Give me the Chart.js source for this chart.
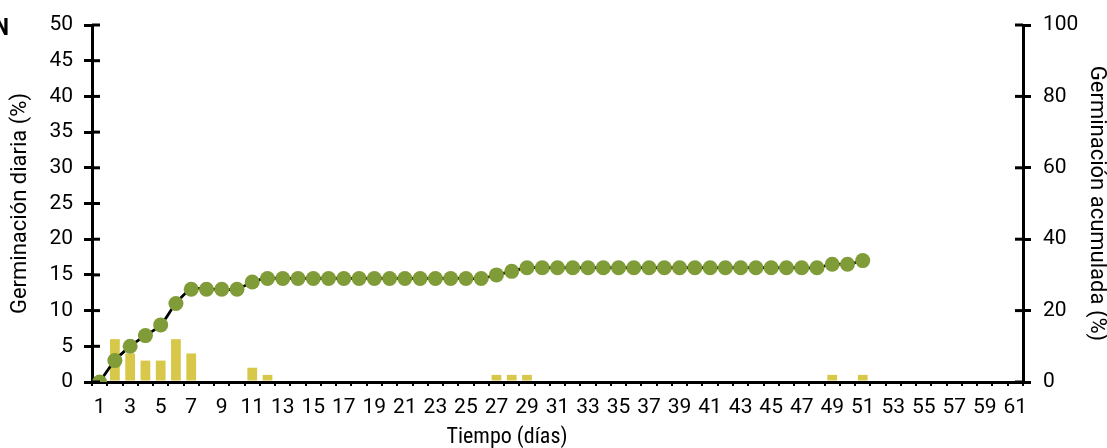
<!DOCTYPE html>
<html>
<head>
<meta charset="utf-8">
<script src="https://cdn.jsdelivr.net/npm/chart.js@4"></script>
<style>
  html, body { margin: 0; padding: 0; background: #fff; }
  #wrap { width: 1107px; height: 448px; }
</style>
</head>
<body>
<div id="wrap"><canvas id="grafico"></canvas></div>
<script>
// ======== Datos ========
// Días (categorías del eje X)
const dias = [];
for (let d = 1; d <= 61; d++) dias.push(String(d));

// Germinación diaria (%) - barras, eje izquierdo
const germinacionDiaria = [
  0, 6, 4, 3, 3, 6, 4, 0, 0, 0,
  2, 1, 0, 0, 0, 0, 0, 0, 0, 0,
  0, 0, 0, 0, 0, 0, 1, 1, 1, 0,
  0, 0, 0, 0, 0, 0, 0, 0, 0, 0,
  0, 0, 0, 0, 0, 0, 0, 0, 1, 0,
  1
];

// Germinación acumulada (%) - línea con puntos, eje derecho
const germinacionAcumulada = [
  0, 6, 10, 13, 16, 22, 26, 26, 26, 26,
  28, 29, 29, 29, 29, 29, 29, 29, 29, 29,
  29, 29, 29, 29, 29, 29, 30, 31, 32, 32,
  32, 32, 32, 32, 32, 32, 32, 32, 32, 32,
  32, 32, 32, 32, 32, 32, 32, 32, 33, 33,
  34
];

// Marcas de los ejes
const marcasIzq = { min: 0, max: 50, paso: 5 };
const marcasDer = { min: 0, max: 100, paso: 20 };

// ======== Estilo ========
const fuente = 'Roboto';
const letra = { family: fuente, style: 'condensed', weight: 400, size: 21 };
const letraTitulo = { family: fuente, style: 'condensed', weight: 400, size: 22, lineHeight: 1 };
const colorBarra = '#d8c84a';
const colorPunto = '#809c38';

// Dibuja la parte interior de las marcas de los ejes Y, el título X y la letra del panel
const extras = {
  id: 'extras',
  afterDraw(chart) {
    const ctx = chart.ctx;
    ctx.save();
    ctx.strokeStyle = '#000';
    ctx.lineWidth = 3;
    const izq = chart.scales.y;
    const der = chart.scales.y2;
    izq.ticks.forEach((t, i) => {
      const y = izq.getPixelForTick(i);
      ctx.beginPath();
      ctx.moveTo(izq.right, y);
      ctx.lineTo(izq.right + 8, y);
      ctx.stroke();
    });
    der.ticks.forEach((t, i) => {
      const y = der.getPixelForTick(i);
      ctx.beginPath();
      ctx.moveTo(der.left, y);
      ctx.lineTo(der.left - 8, y);
      ctx.stroke();
    });
    // título del eje X
    ctx.fillStyle = '#000';
    ctx.font = 'condensed 400 22px ' + fuente;
    ctx.textAlign = 'center';
    ctx.textBaseline = 'alphabetic';
    ctx.fillText('Tiempo (días)', 507, 443);
    // letra del panel
    ctx.font = 'condensed bold 24px ' + fuente;
    ctx.textAlign = 'right';
    ctx.fillText('N', 9, 35);
    ctx.restore();
  }
};

new Chart(document.getElementById('grafico').getContext('2d'), {
  type: 'bar',
  data: {
    labels: dias,
    datasets: [
      {
        type: 'line',
        label: 'Germinación acumulada',
        data: germinacionAcumulada,
        yAxisID: 'y2',
        borderColor: '#000',
        borderWidth: 2.8,
        tension: 0.35,
        pointRadius: 7.5,
        pointBackgroundColor: colorPunto,
        pointBorderWidth: 0,
        order: 0,
      },
      {
        label: 'Germinación diaria',
        data: germinacionDiaria,
        yAxisID: 'y',
        backgroundColor: colorBarra,
        categoryPercentage: 1,
        barPercentage: 0.64,
        order: 1,
      },
    ],
  },
  options: {
    responsive: true,
    maintainAspectRatio: false,
    animation: false,
    layout: { padding: { top: 25, left: 0, right: 0, bottom: 0 } },
    plugins: {
      legend: { display: false },
      tooltip: { enabled: false },
    },
    scales: {
      x: {
        offset: true,
        grid: { drawOnChartArea: false, offset: true, color: '#000', lineWidth: 2, tickLength: 4 },
        border: { color: '#000', width: 3 },
        ticks: {
          autoSkip: false,
          maxRotation: 0,
          padding: 9,
          color: '#000',
          font: letra,
          callback: (v, i) => (i % 2 === 0 ? dias[i] : ''),
        },
        afterFit: (s) => { s.height = 66; },
      },
      y: {
        position: 'left',
        min: marcasIzq.min,
        max: marcasIzq.max,
        grid: { drawOnChartArea: false, color: '#000', lineWidth: 3, tickLength: 8 },
        border: { color: '#000', width: 3 },
        ticks: {
          stepSize: marcasIzq.paso,
          padding: 11,
          color: '#000',
          font: letra,
        },
        title: {
          display: true,
          text: 'Germinación diaria (%)',
          color: '#000',
          font: letraTitulo,
          padding: { top: 9, bottom: 0 },
        },
        afterFit: (s) => { s.width = 92; },
      },
      y2: {
        position: 'right',
        min: marcasDer.min,
        max: marcasDer.max,
        grid: { drawOnChartArea: false, color: '#000', lineWidth: 3, tickLength: 8 },
        border: { color: '#000', width: 3 },
        ticks: {
          stepSize: marcasDer.paso,
          padding: 12,
          color: '#000',
          font: letra,
        },
        title: {
          display: true,
          text: 'Germinación acumulada (%)',
          color: '#000',
          font: letraTitulo,
          padding: { top: 0, bottom: 0 },
        },
        afterFit: (s) => { s.width = 84; },
      },
    },
  },
  plugins: [extras],
});
</script>
</body>
</html>
